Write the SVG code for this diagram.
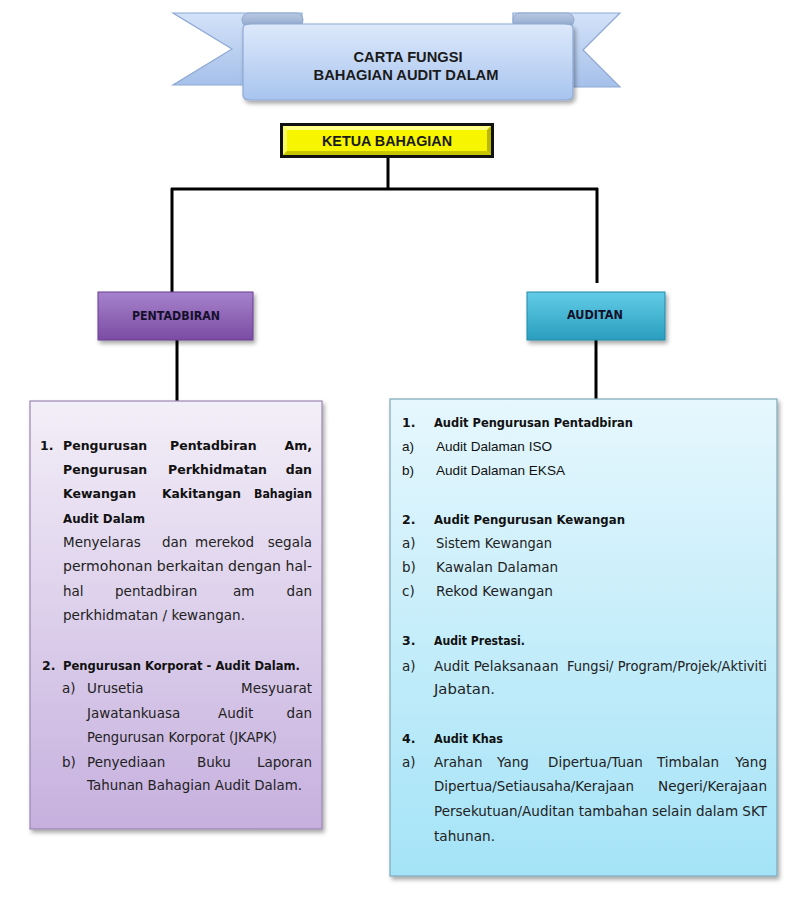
<svg xmlns="http://www.w3.org/2000/svg" width="803" height="900" viewBox="0 0 803 900">
<defs>
<linearGradient id="gBan" x1="0" y1="0" x2="0" y2="1"><stop offset="0" stop-color="#dde9fb"/><stop offset="1" stop-color="#a8c4ee"/></linearGradient>
<linearGradient id="gTail" x1="0" y1="0" x2="0" y2="1"><stop offset="0" stop-color="#d3e2f8"/><stop offset="1" stop-color="#a5c0ea"/></linearGradient>
<linearGradient id="gFold" x1="0" y1="0" x2="0" y2="1"><stop offset="0" stop-color="#b9c9e2"/><stop offset="1" stop-color="#8fa7cc"/></linearGradient>
<linearGradient id="gPur" x1="0" y1="0" x2="0" y2="1"><stop offset="0" stop-color="#a682cc"/><stop offset="1" stop-color="#7b4ca4"/></linearGradient>
<linearGradient id="gTeal" x1="0" y1="0" x2="0" y2="1"><stop offset="0" stop-color="#62cce7"/><stop offset="1" stop-color="#2a9ebf"/></linearGradient>
<linearGradient id="gLbox" x1="0" y1="0" x2="0" y2="1"><stop offset="0" stop-color="#f3eff8"/><stop offset="1" stop-color="#c6b0de"/></linearGradient>
<linearGradient id="gRbox" x1="0" y1="0" x2="0" y2="1"><stop offset="0" stop-color="#e6f7fd"/><stop offset="1" stop-color="#a4e3f7"/></linearGradient>
<filter id="sh" x="-10%" y="-10%" width="125%" height="125%"><feDropShadow dx="2" dy="3" stdDeviation="2" flood-color="#000" flood-opacity="0.35"/></filter>
</defs>
<style>
.ttl{font-family:"Liberation Sans",Arial,sans-serif;font-weight:bold;font-size:15px;fill:#1a1a1a;text-anchor:middle}
.nd{font-family:"DejaVu Sans",sans-serif;font-weight:bold;font-size:11.5px;fill:#15102a;text-anchor:middle}
.b{font-family:"DejaVu Sans",sans-serif;font-weight:bold;font-size:12.5px;fill:#111}
.n{font-family:"DejaVu Sans",sans-serif;font-size:13.5px;fill:#222}
.ar{font-family:"Liberation Sans",Arial,sans-serif;font-size:13.5px;fill:#111}
.e{text-anchor:end}
.con{stroke:#000;stroke-width:3;fill:none}
</style>
<rect width="803" height="900" fill="#ffffff"/>

<g id="banner">
<path d="M173,13 L302,13 L302,85 L173,85 L232,49 Z" fill="url(#gTail)" stroke="#8ea8d2" stroke-width="1.2"/>
<path d="M620,13 L513,13 L513,87 L620,87 L583,50 Z" fill="url(#gTail)" stroke="#8ea8d2" stroke-width="1.2"/>
<rect x="242" y="13" width="61" height="14" rx="7" fill="url(#gFold)" stroke="#8ea8d2" stroke-width="1"/>
<rect x="513" y="13" width="61" height="14" rx="7" fill="url(#gFold)" stroke="#8ea8d2" stroke-width="1"/>
<path d="M243,28 Q243,24 252,24 L564,24 Q573,24 573,28 L573,95 Q573,100 566,100 L250,100 Q243,100 243,95 Z" fill="url(#gBan)" stroke="#8ea8d2" stroke-width="1.2" filter="url(#sh)"/>
<text class="ttl" x="408" y="62" textLength="109" lengthAdjust="spacingAndGlyphs">CARTA FUNGSI</text>
<text class="ttl" x="406" y="80" textLength="185" lengthAdjust="spacingAndGlyphs">BAHAGIAN AUDIT DALAM</text>
</g>

<g id="connectors">
<line class="con" x1="388" y1="158" x2="388" y2="189"/>
<line class="con" x1="171" y1="189" x2="598" y2="189"/>
<line class="con" x1="172" y1="188" x2="172" y2="292"/>
<line class="con" x1="597" y1="188" x2="597" y2="283"/>
<line class="con" x1="177" y1="340" x2="177" y2="401"/>
<line class="con" x1="596" y1="340" x2="596" y2="399"/>
</g>

<g id="ketua">
<rect x="280" y="123" width="214" height="35" fill="#111"/>
<rect x="283" y="126" width="208" height="29" fill="#f7f500"/>
<polygon points="283,126 491,126 487,130 287,130" fill="#ffff8a"/>
<polygon points="283,126 287,130 287,151 283,155" fill="#fbfa60"/>
<polygon points="491,126 491,155 487,151 487,130" fill="#b9b700"/>
<polygon points="283,155 491,155 487,151 287,151" fill="#c8c600"/>
<text class="ttl" x="387" y="146" textLength="130" lengthAdjust="spacingAndGlyphs">KETUA BAHAGIAN</text>
</g>

<g id="pentadbiran">
<rect x="98" y="292" width="155" height="48" fill="url(#gPur)" stroke="#6a3f92" stroke-width="1" filter="url(#sh)"/>
<text class="nd" x="176" y="320" textLength="88" lengthAdjust="spacingAndGlyphs">PENTADBIRAN</text>
</g>

<g id="auditan">
<rect x="527" y="292" width="138" height="48" fill="url(#gTeal)" stroke="#2189a8" stroke-width="1" filter="url(#sh)"/>
<text class="nd" x="595" y="319" textLength="56" lengthAdjust="spacingAndGlyphs">AUDITAN</text>
</g>

<g id="pentadbiran-fungsi">
<rect x="30" y="401" width="292" height="428" fill="url(#gLbox)" stroke="#9a86b2" stroke-width="1.2" filter="url(#sh)"/>
<text class="b" x="40" y="450">1.</text>
<text class="b" x="63" y="450">Pengurusan</text>
<text class="b" x="170" y="450">Pentadbiran</text>
<text class="b e" x="312" y="450">Am,</text>
<text class="b" x="63" y="474">Pengurusan</text>
<text class="b" x="168" y="474">Perkhidmatan</text>
<text class="b e" x="312" y="474">dan</text>
<text class="b" x="63" y="498">Kewangan</text>
<text class="b" x="162" y="498" textLength="79" lengthAdjust="spacingAndGlyphs">Kakitangan</text>
<text class="b e" x="312" y="498" textLength="58" lengthAdjust="spacingAndGlyphs">Bahagian</text>
<text class="b" x="63" y="523" textLength="82" lengthAdjust="spacingAndGlyphs">Audit Dalam</text>
<text class="n" x="63" y="547">Menyelaras</text>
<text class="n" x="162" y="547">dan</text>
<text class="n" x="195" y="547">merekod</text>
<text class="n e" x="312" y="547">segala</text>
<text class="n" x="63" y="571" textLength="249" lengthAdjust="spacingAndGlyphs">permohonan berkaitan dengan hal-</text>
<text class="n" x="63" y="596">hal</text>
<text class="n" x="115" y="596">pentadbiran</text>
<text class="n" x="233" y="596">am</text>
<text class="n e" x="312" y="596">dan</text>
<text class="n" x="63" y="620" textLength="182" lengthAdjust="spacingAndGlyphs">perkhidmatan / kewangan.</text>
<text class="b" x="42" y="670">2.</text>
<text class="b" x="63" y="670" textLength="237" lengthAdjust="spacingAndGlyphs">Pengurusan Korporat - Audit Dalam.</text>
<text class="n" x="62" y="693">a)</text>
<text class="n" x="87" y="693">Urusetia</text>
<text class="n e" x="312" y="693">Mesyuarat</text>
<text class="n" x="87" y="718">Jawatankuasa</text>
<text class="n" x="218" y="718">Audit</text>
<text class="n e" x="312" y="718">dan</text>
<text class="n" x="87" y="742" textLength="190" lengthAdjust="spacingAndGlyphs">Pengurusan Korporat (JKAPK)</text>
<text class="n" x="62" y="767">b)</text>
<text class="n" x="87" y="767">Penyediaan</text>
<text class="n" x="197" y="767">Buku</text>
<text class="n e" x="312" y="767">Laporan</text>
<text class="n" x="87" y="790" textLength="215" lengthAdjust="spacingAndGlyphs">Tahunan Bahagian Audit Dalam.</text>
</g>

<g id="auditan-fungsi">
<rect x="390" y="399" width="387" height="477" fill="url(#gRbox)" stroke="#7ea8b8" stroke-width="1.2" filter="url(#sh)"/>
<text class="b" x="402" y="427">1.</text>
<text class="b" x="434" y="427" textLength="199" lengthAdjust="spacingAndGlyphs">Audit Pengurusan Pentadbiran</text>
<text class="ar" x="402" y="451">a)</text>
<text class="ar" x="436" y="451" textLength="116" lengthAdjust="spacingAndGlyphs">Audit Dalaman ISO</text>
<text class="ar" x="402" y="475">b)</text>
<text class="ar" x="436" y="475" textLength="129" lengthAdjust="spacingAndGlyphs">Audit Dalaman EKSA</text>
<text class="b" x="402" y="524">2.</text>
<text class="b" x="434" y="524" textLength="191" lengthAdjust="spacingAndGlyphs">Audit Pengurusan Kewangan</text>
<text class="n" x="402" y="548">a)</text>
<text class="n" x="436" y="548" textLength="116" lengthAdjust="spacingAndGlyphs">Sistem Kewangan</text>
<text class="n" x="402" y="572">b)</text>
<text class="n" x="436" y="572" textLength="122" lengthAdjust="spacingAndGlyphs">Kawalan Dalaman</text>
<text class="n" x="402" y="596">c)</text>
<text class="n" x="436" y="596" textLength="117" lengthAdjust="spacingAndGlyphs">Rekod Kewangan</text>
<text class="b" x="402" y="645">3.</text>
<text class="b" x="434" y="645" textLength="91" lengthAdjust="spacingAndGlyphs">Audit Prestasi.</text>
<text class="n" x="402" y="671">a)</text>
<text class="n" x="434" y="671">Audit Pelaksanaan</text>
<text class="n e" x="767" y="671" textLength="200" lengthAdjust="spacingAndGlyphs">Fungsi/ Program/Projek/Aktiviti</text>
<text class="n" x="434" y="694" textLength="61" lengthAdjust="spacingAndGlyphs">Jabatan.</text>
<text class="b" x="402" y="743">4.</text>
<text class="b" x="434" y="743" textLength="69" lengthAdjust="spacingAndGlyphs">Audit Khas</text>
<text class="n" x="402" y="767">a)</text>
<text class="n" x="434" y="767">Arahan</text>
<text class="n" x="497" y="767">Yang</text>
<text class="n" x="548" y="767">Dipertua/Tuan</text>
<text class="n" x="657" y="767">Timbalan</text>
<text class="n e" x="767" y="767">Yang</text>
<text class="n" x="434" y="791" textLength="200" lengthAdjust="spacingAndGlyphs">Dipertua/Setiausaha/Kerajaan</text>
<text class="n e" x="767" y="791" textLength="109" lengthAdjust="spacingAndGlyphs">Negeri/Kerajaan</text>
<text class="n" x="434" y="816" textLength="333" lengthAdjust="spacingAndGlyphs">Persekutuan/Auditan tambahan selain dalam SKT</text>
<text class="n" x="434" y="841" textLength="61" lengthAdjust="spacingAndGlyphs">tahunan.</text>
</g>
</svg>
